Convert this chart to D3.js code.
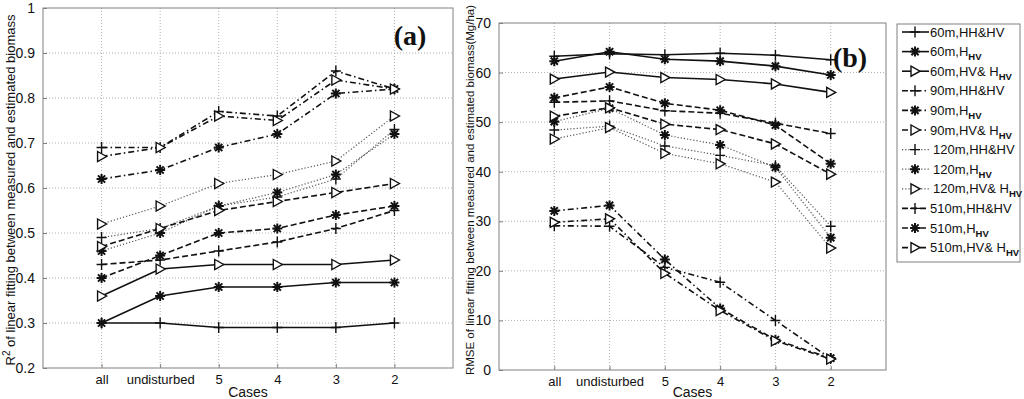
<!DOCTYPE html>
<html lang="en">
<head>
<meta charset="UTF-8">
<title>R2 and RMSE by case</title>
<script src="https://cdn.jsdelivr.net/npm/d3@7"></script>
<style>
	body { margin: 0; background: #fff; }
	text { font-family: "Liberation Sans", Arial, sans-serif; fill: #111; }
	.grid line { stroke: #b0b0b0; stroke-dasharray: 1,2; }
	.axis path, .axis line { stroke: #808080; }
</style>
</head>
<body>
<script>
var cases = ['all', 'undisturbed', '5', '4', '3', '2'];
var r2Ticks = [0.2, 0.3, 0.4, 0.5, 0.6, 0.7, 0.8, 0.9, 1];
var rmseTicks = [0, 10, 20, 30, 40, 50, 60, 70];

// legend labels: main part + subscript
var legendMain = ['60m,HH&HV', '60m,H', '60m,HV& H', '90m,HH&HV', '90m,H', '90m,HV& H',
	'120m,HH&HV', '120m,H', '120m,HV& H', '510m,HH&HV', '510m,H', '510m,HV& H'];
var legendSub = ['', 'HV', 'HV', '', 'HV', 'HV', '', 'HV', 'HV', '', 'HV', 'HV'];
var markers = ['plus', 'star', 'tri', 'plus', 'star', 'tri', 'plus', 'star', 'tri', 'plus', 'star', 'tri'];
var styles = ['solid', 'solid', 'solid', 'dashdot', 'dashdot', 'dashdot', 'dotted', 'dotted', 'dotted', 'dashed', 'dashed', 'dashed'];

// (a) R^2
var r2_60_hhhv = [0.30, 0.30, 0.29, 0.29, 0.29, 0.30];
var r2_60_h = [0.30, 0.36, 0.38, 0.38, 0.39, 0.39];
var r2_60_hvh = [0.36, 0.42, 0.43, 0.43, 0.43, 0.44];
var r2_90_hhhv = [0.69, 0.69, 0.77, 0.76, 0.86, 0.82];
var r2_90_h = [0.62, 0.64, 0.69, 0.72, 0.81, 0.82];
var r2_90_hvh = [0.67, 0.69, 0.76, 0.75, 0.84, 0.82];
var r2_120_hhhv = [0.49, 0.51, 0.56, 0.58, 0.62, 0.73];
var r2_120_h = [0.46, 0.50, 0.56, 0.59, 0.63, 0.72];
var r2_120_hvh = [0.52, 0.56, 0.61, 0.63, 0.66, 0.76];
var r2_510_hhhv = [0.43, 0.44, 0.46, 0.48, 0.51, 0.55];
var r2_510_h = [0.40, 0.45, 0.50, 0.51, 0.54, 0.56];
var r2_510_hvh = [0.47, 0.51, 0.55, 0.57, 0.59, 0.61];

// (b) RMSE (Mg/ha)
var rm_60_hhhv = [63.3, 63.8, 63.6, 63.9, 63.5, 62.6];
var rm_60_h = [62.3, 64.2, 62.7, 62.3, 61.3, 59.5];
var rm_60_hvh = [58.7, 60.1, 59.0, 58.6, 57.7, 56.0];
var rm_90_hhhv = [29.1, 29.0, 20.7, 17.7, 10.0, 2.3];
var rm_90_h = [32.1, 33.2, 22.3, 12.4, 6.1, 2.4];
var rm_90_hvh = [29.8, 30.5, 19.5, 12.0, 5.9, 2.2];
var rm_120_hhhv = [48.4, 49.2, 45.2, 43.3, 41.2, 29.0];
var rm_120_h = [50.1, 52.8, 47.4, 45.4, 40.9, 26.7];
var rm_120_hvh = [46.6, 48.9, 43.7, 41.6, 37.9, 24.6];
var rm_510_hhhv = [54.0, 54.3, 52.3, 51.8, 49.8, 47.7];
var rm_510_h = [54.9, 57.1, 53.8, 52.4, 49.4, 41.6];
var rm_510_hvh = [51.2, 52.9, 49.6, 48.5, 45.6, 39.5];

var r2Series = [r2_60_hhhv, r2_60_h, r2_60_hvh, r2_90_hhhv, r2_90_h, r2_90_hvh,
	r2_120_hhhv, r2_120_h, r2_120_hvh, r2_510_hhhv, r2_510_h, r2_510_hvh];
var rmSeries = [rm_60_hhhv, rm_60_h, rm_60_hvh, rm_90_hhhv, rm_90_h, rm_90_hvh,
	rm_120_hhhv, rm_120_h, rm_120_hvh, rm_510_hhhv, rm_510_h, rm_510_hvh];

var dash = { solid: null, dashed: '6,3', dashdot: '6,3,1.5,3', dotted: '1.2,2' };
var markPath = {
	plus: 'M-5,0H5M0,-5.5V5.5',
	star: 'M-5,0H5M0,-5V5M-3.6,-3.6L3.6,3.6M-3.6,3.6L3.6,-3.6',
	tri: 'M-4,-5L5,0L-4,5Z'
};

var svg = d3.select('body').append('svg')
	.attr('width', 1024).attr('height', 399);

function drawPanel(box, yDomain, yTicks, yFmt, series, tag, tagPos, yLabel, yLabelSize) {
	var x = d3.scaleLinear().domain([0, 7]).range([box.left, box.right]);
	var y = d3.scaleLinear().domain(yDomain).range([box.bottom, box.top]);
	var g = svg.append('g');

	// grid
	var grid = g.append('g').attr('class', 'grid');
	grid.selectAll('.gy').data(yTicks.slice(1, -1)).enter().append('line')
		.attr('x1', box.left).attr('x2', box.right)
		.attr('y1', function(d){ return y(d); }).attr('y2', function(d){ return y(d); });
	grid.selectAll('.gx').data(cases).enter().append('line')
		.attr('x1', function(d, i){ return x(i + 1); }).attr('x2', function(d, i){ return x(i + 1); })
		.attr('y1', box.top).attr('y2', box.bottom);

	// axes
	var ay = g.append('g').attr('class', 'axis')
		.attr('transform', 'translate(' + box.left + ',0)')
		.call(d3.axisLeft(y).tickValues(yTicks).tickFormat(yFmt).tickSizeInner(-4).tickSizeOuter(0).tickPadding(8));
	ay.selectAll('text').style('font-size', '14px').style('font-family', '"Liberation Sans", Arial, sans-serif');
	var ax = g.append('g').attr('class', 'axis')
		.attr('transform', 'translate(0,' + box.bottom + ')')
		.call(d3.axisBottom(x).tickValues([1, 2, 3, 4, 5, 6])
			.tickFormat(function(d){ return cases[d - 1]; }).tickSizeInner(-4).tickSizeOuter(0).tickPadding(7));
	ax.selectAll('text').style('font-size', '13px').style('font-family', '"Liberation Sans", Arial, sans-serif');
	ax.select('.domain').remove();
	ay.select('.domain').remove();
	g.append('rect')
		.attr('x', box.left).attr('y', box.top)
		.attr('width', box.right - box.left).attr('height', box.bottom - box.top)
		.attr('fill', 'none').attr('stroke', '#808080');

	// lines
	var line = d3.line().x(function(d, i){ return x(i + 1); }).y(function(d){ return y(d); });
	series.forEach(function(vals, k) {
		g.append('path').datum(vals)
			.attr('d', line)
			.attr('fill', 'none')
			.attr('stroke', styles[k] === 'dotted' ? '#555' : '#111')
			.attr('stroke-width', styles[k] === 'dotted' ? 1.2 : 1.6)
			.attr('stroke-dasharray', dash[styles[k]]);
	});
	series.forEach(function(vals, k) {
		g.selectAll(null).data(vals).enter().append('path')
			.attr('transform', function(d, i){ return 'translate(' + x(i + 1) + ',' + y(d) + ')'; })
			.attr('d', markPath[markers[k]])
			.attr('fill', markers[k] === 'tri' ? '#fff' : 'none')
			.attr('stroke', '#111')
			.attr('stroke-width', markers[k] === 'star' ? 2 : 1.4);
	});

	// labels
	g.append('text')
		.attr('x', (box.left + box.right) / 2).attr('y', 397)
		.attr('text-anchor', 'middle').style('font-size', '14px')
		.text('Cases');
	g.append('text')
		.attr('x', tagPos[0]).attr('y', tagPos[1])
		.attr('text-anchor', 'middle')
		.style('font-family', '"Liberation Serif", "Times New Roman", serif')
		.style('font-weight', 'bold').style('font-size', '28px')
		.text(tag);
	var yl = g.append('text')
		.attr('transform', 'translate(' + yLabel.x + ',' + yLabel.y + ') rotate(-90)')
		.attr('text-anchor', 'middle').style('font-size', yLabelSize + 'px');
	yLabel.parts.forEach(function(p) {
		var t = yl.append('tspan').text(p.t);
		if (p.sup) t.attr('dy', -5).style('font-size', (yLabelSize - 3) + 'px');
		if (p.back) t.attr('dy', 5);
	});
}

drawPanel({ left: 43, right: 453, top: 8, bottom: 368 }, [0.2, 1], r2Ticks,
	function(d){ return d === 1 ? '1' : d3.format('.1f')(d); }, r2Series, '(a)', [410, 45],
	{ x: 15, y: 190, parts: [{ t: 'R' }, { t: '2', sup: true }, { t: ' of linear fitting between measured and estimated biomass', back: true }] }, 13);

drawPanel({ left: 499, right: 886, top: 23, bottom: 370 }, [0, 70], rmseTicks,
	d3.format('d'), rmSeries, '(b)', [850, 67],
	{ x: 474, y: 190, parts: [{ t: 'RMSE of linear fitting between measured and estimated biomass(Mg/ha)' }] }, 11.5);

// legend
var lg = svg.append('g');
lg.append('rect').attr('x', 897).attr('y', 24).attr('width', 123).attr('height', 238)
	.attr('fill', '#fff').attr('stroke', '#808080');
legendMain.forEach(function(name, k) {
	var yy = 32 + k * 19.6;
	lg.append('line').attr('x1', 902).attr('x2', 929).attr('y1', yy).attr('y2', yy)
		.attr('stroke', styles[k] === 'dotted' ? '#555' : '#111')
		.attr('stroke-width', styles[k] === 'dotted' ? 1.2 : 1.6)
		.attr('stroke-dasharray', dash[styles[k]]);
	lg.append('path').attr('transform', 'translate(915,' + yy + ')')
		.attr('d', markPath[markers[k]])
		.attr('fill', markers[k] === 'tri' ? '#fff' : 'none')
		.attr('stroke', '#111')
		.attr('stroke-width', markers[k] === 'star' ? 2 : 1.4);
	var t = lg.append('text').attr('x', styles[k] === 'dotted' ? 933 : 930).attr('y', yy + 4.5)
		.style('font-size', '13px');
	t.append('tspan').text(name);
	if (legendSub[k]) t.append('tspan').attr('dy', 4).style('font-size', '9.5px').style('font-weight', 'bold').text(legendSub[k]);
});
</script>
</body>
</html>
